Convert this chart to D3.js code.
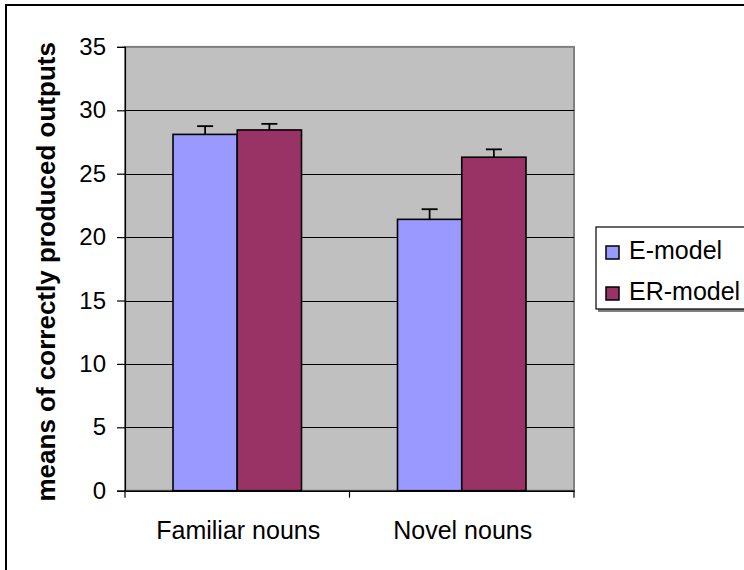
<!DOCTYPE html>
<html>
<head>
<meta charset="utf-8">
<script src="https://cdn.jsdelivr.net/npm/d3@7"></script>
<style>
  html, body { margin: 0; padding: 0; background: #fff; }
  svg { display: block; font-family: Arial, "Liberation Sans", sans-serif; }
</style>
</head>
<body>
<svg id="chart" width="744" height="570"></svg>
<script>
const categories = ["Familiar nouns", "Novel nouns"];
const seriesNames = ["E-model", "ER-model"];
const eModel = [28.1, 21.4];
const erModel = [28.45, 26.3];
const eModelErr = [0.65, 0.8];
const erModelErr = [0.48, 0.62];
const yTicks = [0, 5, 10, 15, 20, 25, 30, 35];
const colors = ["#9999ff", "#993366"];

(function () {
const svg = d3.select("#chart");

// outer chart border (extends beyond the visible picture on right/bottom)
svg.append("rect").attr("x", 6).attr("y", 5).attr("width", 800).attr("height", 700)
  .attr("fill", "#fff").attr("stroke", "#000").attr("stroke-width", 2);

const pLeft = 125, pRight = 574, pTop = 46.9, pBottom = 490.7;

const y = d3.scaleLinear().domain([0, 35]).range([pBottom, pTop]);
const x0 = d3.scaleBand().domain(categories).range([pLeft, pRight]).padding(0);
const bw = x0.bandwidth();
const x1 = d3.scaleBand().domain(seriesNames).range([48, bw - 48]).padding(0);

// plot area
svg.append("rect").attr("x", pLeft).attr("y", pTop).attr("width", pRight - pLeft).attr("height", pBottom - pTop)
  .attr("fill", "#c0c0c0").attr("stroke", "#808080").attr("stroke-width", 2);

// gridlines
svg.append("g").selectAll("line").data(yTicks.filter(d => d > 0 && d < 35)).join("line")
  .attr("x1", pLeft).attr("x2", pRight)
  .attr("y1", d => Math.round(y(d)) + 0.5).attr("y2", d => Math.round(y(d)) + 0.5)
  .attr("stroke", "#000").attr("stroke-width", 1);

// bars
const rows = categories.map((c, i) => ({
  cat: c,
  vals: [
    { s: seriesNames[0], v: eModel[i], e: eModelErr[i], c: colors[0] },
    { s: seriesNames[1], v: erModel[i], e: erModelErr[i], c: colors[1] }
  ]
}));

const g = svg.append("g").selectAll("g").data(rows).join("g")
  .attr("transform", d => `translate(${x0(d.cat)},0)`);

g.selectAll("rect").data(d => d.vals).join("rect")
  .attr("x", d => x1(d.s)).attr("width", x1.bandwidth())
  .attr("y", d => y(d.v)).attr("height", d => y(0) - y(d.v))
  .attr("fill", d => d.c).attr("stroke", "#000").attr("stroke-width", 1.6);

// error bars (upper only)
const eb = g.selectAll("g.err").data(d => d.vals).join("g").attr("class", "err");
eb.append("line")
  .attr("x1", d => x1(d.s) + x1.bandwidth() / 2).attr("x2", d => x1(d.s) + x1.bandwidth() / 2)
  .attr("y1", d => y(d.v)).attr("y2", d => y(d.v + d.e))
  .attr("stroke", "#000").attr("stroke-width", 1.8);
eb.append("line")
  .attr("x1", d => x1(d.s) + x1.bandwidth() / 2 - 8).attr("x2", d => x1(d.s) + x1.bandwidth() / 2 + 8)
  .attr("y1", d => y(d.v + d.e)).attr("y2", d => y(d.v + d.e))
  .attr("stroke", "#000").attr("stroke-width", 1.8);

// y axis
const yAxis = d3.axisLeft(y).tickValues(yTicks).tickSize(8).tickPadding(11).tickFormat(d3.format("d"));
const ya = svg.append("g").attr("transform", `translate(${pLeft},0)`).call(yAxis);
ya.select(".domain").attr("stroke", "#000").attr("stroke-width", 1.2);
ya.selectAll(".tick line").attr("stroke", "#000").attr("stroke-width", 1.2);
ya.selectAll(".tick text").attr("font-size", 24).attr("fill", "#000")
  .attr("font-family", "Arial, 'Liberation Sans', sans-serif");

// x axis
const xAxis = d3.axisBottom(x0).tickSize(0).tickPadding(0).tickFormat("");
const xa = svg.append("g").attr("transform", `translate(0,${pBottom})`).call(xAxis);
xa.select(".domain").attr("stroke", "#000").attr("stroke-width", 1.5);
xa.selectAll(".tick").remove();
const tickXs = [pLeft].concat(categories.map(c => x0(c) + bw));
xa.selectAll("line.sep").data(tickXs).join("line").attr("class", "sep")
  .attr("x1", d => d).attr("x2", d => d).attr("y1", 0).attr("y2", 7)
  .attr("stroke", "#000").attr("stroke-width", 1.2);
xa.selectAll("text.cat").data(categories).join("text").attr("class", "cat")
  .attr("x", d => x0(d) + bw / 2 + 1).attr("y", 48.5)
  .attr("text-anchor", "middle").attr("font-size", 25).attr("fill", "#000")
  .text(d => d);

// y title
svg.append("text")
  .attr("transform", `translate(55,${(pTop + pBottom) / 2 + 3}) rotate(-90)`)
  .attr("text-anchor", "middle").attr("font-size", 26).attr("font-weight", "bold")
  .attr("fill", "#000")
  .text("means of correctly produced outputs");

// legend
const lg = svg.append("g").attr("transform", "translate(596,227)");
lg.append("rect").attr("x", 2).attr("y", 3).attr("width", 200).attr("height", 82).attr("fill", "#808080");
lg.append("rect").attr("x", 0).attr("y", 0).attr("width", 200).attr("height", 82)
  .attr("fill", "#fff").attr("stroke", "#000").attr("stroke-width", 1.2);
const li = lg.selectAll("g.item").data(seriesNames).join("g").attr("class", "item")
  .attr("transform", (d, i) => `translate(0,${i * 41})`);
li.append("rect").attr("x", 10).attr("y", 19).attr("width", 13).attr("height", 13)
  .attr("fill", (d, i) => colors[i]).attr("stroke", "#000").attr("stroke-width", 1.5);
li.append("text").attr("x", 33).attr("y", 32).attr("font-size", 25).attr("fill", "#000").text(d => d);
})();
</script>
</body>
</html>
